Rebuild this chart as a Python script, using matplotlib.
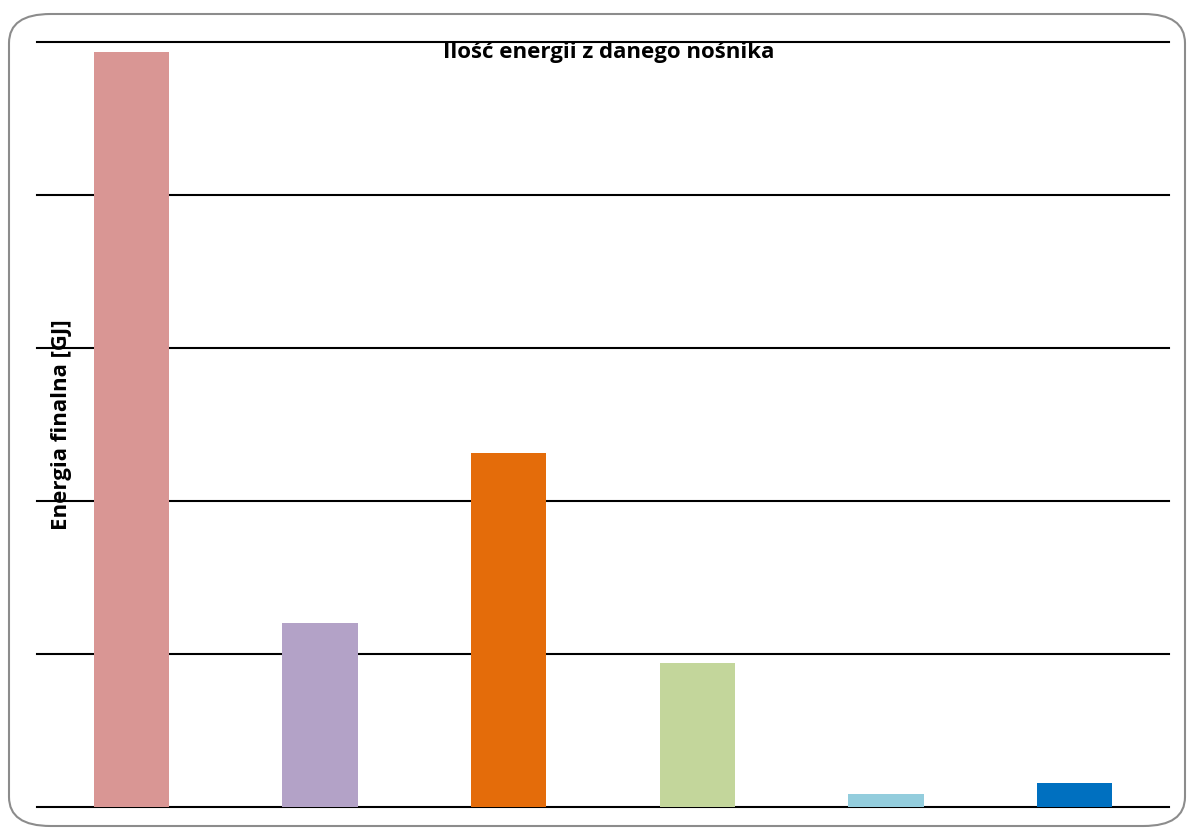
import matplotlib.pyplot as plt
from matplotlib.patches import FancyBboxPatch

# Dane (jednostki siatki, wartosci szacowane z obrazka)
nosniki = ["Nośnik 1", "Nośnik 2", "Nośnik 3", "Nośnik 4", "Nośnik 5", "Nośnik 6"]
energia = [4.93, 1.20, 2.31, 0.94, 0.08, 0.155]
kolory = ["#D99694", "#B3A2C7", "#E46C0A", "#C3D69B", "#93CDDD", "#0070C0"]

plt.rcParams['font.family'] = ['Open Sans', 'DejaVu Sans']

fig = plt.figure(figsize=(11.87, 8.3), dpi=100)
ax = fig.add_axes([37 / 1187, 1 - 806.7 / 830, 1132 / 1187, 765 / 830])

# Ramka z zaokraglonymi rogami
ramka = FancyBboxPatch((9 / 1187, 1 - 826 / 830), 1176 / 1187, 812 / 830,
                       boxstyle="round,pad=0,rounding_size=0.035",
                       transform=fig.transFigure, facecolor="white",
                       edgecolor="#8c8c8c", linewidth=1.5, zorder=-10)
fig.patches.append(ramka)

x = range(len(nosniki))
ax.bar(x, energia, width=0.4, color=kolory, zorder=3)

ax.set_xlim(-0.5, len(nosniki) - 0.5)
ax.set_ylim(0, 5)
ax.set_yticks(range(0, 6))
ax.set_axisbelow(False)
ax.yaxis.grid(True, color="black", linewidth=1.5)
for g in ax.get_ygridlines():
    g.set_clip_on(False)
    g.set_zorder(2)
ax.tick_params(left=False, bottom=False, labelleft=False, labelbottom=False)
for s in ax.spines.values():
    s.set_visible(False)
ax.patch.set_alpha(0)

ax.text(25 / 1132, 0.5, "Energia finalna [GJ]", transform=ax.transAxes,
        rotation=90, ha="center", va="center", fontsize=16, fontweight="bold", zorder=1)
ax.text(0.505, 0.999, "Ilość energii z danego nośnika", transform=ax.transAxes,
        ha="center", va="top", fontsize=16, fontweight="bold", zorder=1)

fig.savefig("out.png", dpi=100)
